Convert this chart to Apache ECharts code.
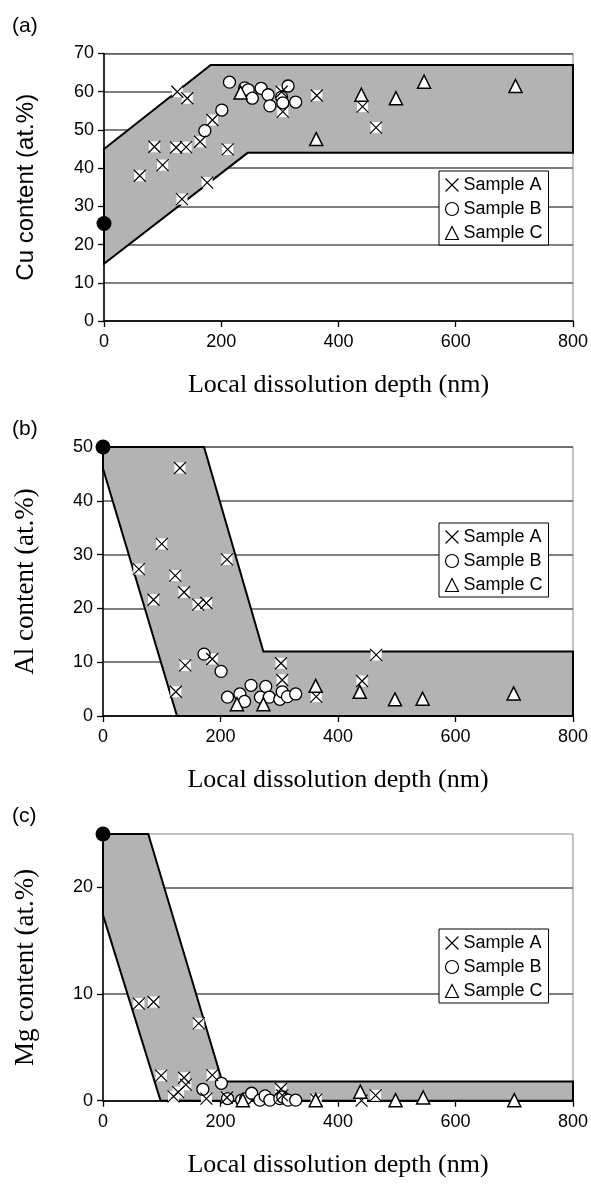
<!DOCTYPE html>
<html><head><meta charset="utf-8">
<script src="https://cdn.jsdelivr.net/npm/echarts@6/dist/echarts.min.js"></script>
<style>html,body{margin:0;padding:0;background:#fff}#c{width:591px;height:1184px}</style>
</head><body><div id="c"></div>
<script>
// ---------- data ----------
const sampleNames = ['Sample A', 'Sample B', 'Sample C'];
const xAxisTitle = 'Local dissolution depth (nm)';
const panelLabels = ['(a)', '(b)', '(c)'];
const yTitles = ['Cu content (at.%)', 'Al content (at.%)', 'Mg content (at.%)'];
const yMax = [70, 50, 25];
const yInterval = [10, 10, 10];
const yTickValues = [[0,10,20,30,40,50,60,70],[0,10,20,30,40,50],[0,10,20]];

// (a) Cu
const cuSampleA = [[61,38],[86,45.6],[100,40.8],[123,45.4],[125,60],[133,31.9],[140,45.5],[142,58.3],[164,46.9],[176,36.2],[185,52.6],[211,44.9],[303,60],[305,54.8],[363,59],[441,56.1],[464,50.6]];
const cuSampleB = [[172,49.8],[201,55.2],[214,62.5],[240,61],[246,60.5],[253,58.3],[268,60.9],[280,59.2],[283,56.3],[303,58.6],[305,57.1],[314,61.5],[327,57.3]];
const cuSampleC = [[233,59.8],[362,47.6],[439,59.2],[498,58.3],[546,62.6],[702,61.5]];
const cuBand = [[0,45],[182,67],[800,67],[800,44],[245,44],[0,15]];
const cuStart = [[0,25.5]];

// (b) Al
const alSampleA = [[61,27.3],[86,21.6],[100,32],[123,26.1],[124,4.5],[131,46.1],[138,23],[140,9.4],[162,20.7],[176,21],[186,10.6],[211,29.1],[303,9.8],[305,6.7],[363,3.6],[441,6.5],[465,11.35]];
const alSampleB = [[172,11.5],[201,8.3],[212,3.5],[233,4.1],[241,2.7],[252,5.7],[268,3.5],[277,5.5],[283,3.5],[301,3.1],[305,4.5],[314,3.6],[328,4.1]];
const alSampleC = [[228,2.2],[273,2.2],[362,5.6],[437,4.5],[497,3.1],[544,3.2],[699,4.2]];
const alBand = [[0,50],[172,50],[273,12],[800,12],[800,0],[126,0],[0,46]];
const alStart = [[0,50]];

// (c) Mg
const mgSampleA = [[61,9.1],[86,9.25],[99,2.35],[120,0.4],[128,0.8],[138,2.15],[141,1.5],[163,7.25],[176,0.2],[186,2.4],[211,0.3],[303,1.1],[305,0.5],[363,0.1],[440,0],[464,0.5]];
const mgSampleB = [[170,1.07],[201.5,1.63],[212,0.2],[236,0.05],[243,0.2],[253,0.7],[267,0.05],[276,0.45],[284,0.05],[301,0.2],[306,0.35],[315,0.05],[328,0.05]];
const mgSampleC = [[238,0.05],[362,0.05],[438,0.85],[498,0.05],[545,0.3],[700,0.05]];
const mgBand = [[0,25],[77,25],[203,1.8],[800,1.8],[800,0],[98,0],[0,17.4]];
const mgStart = [[0,25]];

const panels = [
  {A: cuSampleA, B: cuSampleB, C: cuSampleC, band: cuBand, start: cuStart},
  {A: alSampleA, B: alSampleB, C: alSampleC, band: alBand, start: alStart},
  {A: mgSampleA, B: mgSampleB, C: mgSampleC, band: mgBand, start: mgStart}
];

// ---------- layout ----------
const grids = [
  {left: 104, top: 53.5, width: 469, height: 267.5},
  {left: 103, top: 447, width: 470, height: 269},
  {left: 103, top: 834, width: 470, height: 266.7}
];
const legendPos = [{left: 439, top: 171}, {left: 439, top: 523}, {left: 439, top: 929}];
const labelPos = [{left: 12, top: 16}, {left: 12, top: 419}, {left: 12, top: 806}];

const xPath = 'path://M0,0L10,10M10,0L0,10';
const sans = 'Liberation Sans';
const serif = 'Liberation Serif';

const option = {
  backgroundColor: '#fff',
  animation: false,
  grid: grids.map(g => Object.assign({show: true, borderColor: '#888', borderWidth: 1, backgroundColor: 'transparent'}, g)),
  xAxis: grids.map((g, i) => ({
    type: 'value', gridIndex: i, min: 0, max: 800, interval: 200,
    axisLine: {show: true, onZero: false, lineStyle: {color: '#000', width: 1.5}},
    axisTick: {show: true, length: 6, lineStyle: {color: '#000', width: 1.3}},
    axisLabel: {color: '#000', fontSize: 18, fontFamily: sans, margin: 12},
    splitLine: {show: false},
    name: xAxisTitle, nameLocation: 'middle', nameGap: 51,
    nameTextStyle: {color: '#000', fontSize: 26, fontFamily: serif}
  })),
  yAxis: grids.map((g, i) => ({
    type: 'value', gridIndex: i, min: 0, max: yMax[i], interval: yInterval[i],
    axisLine: {show: true, onZero: false, lineStyle: {color: '#000', width: 1.5}},
    axisTick: {show: true, length: 6, lineStyle: {color: '#000', width: 1.3}, customValues: yTickValues[i]},
    axisLabel: {color: '#000', fontSize: 18, fontFamily: sans, margin: 10, customValues: yTickValues[i]},
    splitLine: {show: true, lineStyle: {color: '#555', width: 1.5}},
    name: yTitles[i], nameLocation: 'middle', nameGap: i === 0 ? 66 : 64,
    nameTextStyle: {color: '#000', fontSize: i === 0 ? 24 : 27, fontFamily: i === 0 ? sans : serif}
  })),
  legend: legendPos.map(p => ({
    left: p.left, top: p.top, orient: 'vertical', selectedMode: false,
    data: [
      {name: 'Sample A', icon: xPath, itemStyle: {color: 'none', borderColor: '#000', borderWidth: 1.2}},
      {name: 'Sample B', icon: 'circle', itemStyle: {color: '#fff', borderColor: '#000', borderWidth: 1.2}},
      {name: 'Sample C', icon: 'triangle', itemStyle: {color: '#fff', borderColor: '#000', borderWidth: 1.2}}
    ],
    itemWidth: 13, itemHeight: 13, itemGap: 6, padding: [5, 6, 3, 4],
    borderColor: '#000', borderWidth: 1, backgroundColor: '#fff',
    textStyle: {color: '#000', fontSize: 18, fontFamily: sans}
  })),
  graphic: labelPos.map((p, i) => ({
    type: 'text', left: p.left, top: p.top,
    style: {text: panelLabels[i], font: '21px "Liberation Sans"', fill: '#000'}
  })),
  series: []
};

panels.forEach((pn, i) => {
  const band = pn.band;
  option.series.push({
    type: 'custom', name: 'band' + i, xAxisIndex: i, yAxisIndex: i, silent: true, clip: false, z: 1,
    data: band,
    encode: {x: 0, y: 1},
    renderItem: function (params, api) {
      if (params.dataIndex !== 0) return null;
      const pts = band.map(p => api.coord(p));
      return {type: 'polygon', shape: {points: pts},
        style: {fill: '#b3b3b3', stroke: '#000', lineWidth: 2, lineJoin: 'miter'}};
    }
  });
  option.series.push({
    type: 'scatter', name: 'bgA' + i, xAxisIndex: i, yAxisIndex: i, silent: true, z: 3,
    symbol: 'rect', symbolSize: 11, data: pn.A,
    itemStyle: {color: '#fff', opacity: 1}
  });
  option.series.push({
    type: 'scatter', name: sampleNames[1], xAxisIndex: i, yAxisIndex: i, z: 4,
    symbol: 'circle', symbolSize: 12, data: pn.B,
    itemStyle: {color: '#fff', borderColor: '#000', borderWidth: 1.3, opacity: 1}
  });
  option.series.push({
    type: 'scatter', name: sampleNames[0], xAxisIndex: i, yAxisIndex: i, z: 5,
    symbol: xPath, symbolSize: 12, data: pn.A,
    itemStyle: {color: 'none', borderColor: '#000', borderWidth: 1.2, opacity: 1}
  });
  option.series.push({
    type: 'scatter', name: sampleNames[2], xAxisIndex: i, yAxisIndex: i, z: 5,
    symbol: 'triangle', symbolSize: 13, data: pn.C,
    itemStyle: {color: '#fff', borderColor: '#000', borderWidth: 1.5, opacity: 1}
  });
  option.series.push({
    type: 'scatter', name: 'start' + i, xAxisIndex: i, yAxisIndex: i, z: 10, clip: false, silent: true,
    symbol: 'circle', symbolSize: 15, data: pn.start,
    itemStyle: {color: '#000', opacity: 1}
  });
});

const chart = echarts.init(document.getElementById('c'), null, {renderer: 'canvas'});
chart.setOption(option);
</script>
</body></html>
